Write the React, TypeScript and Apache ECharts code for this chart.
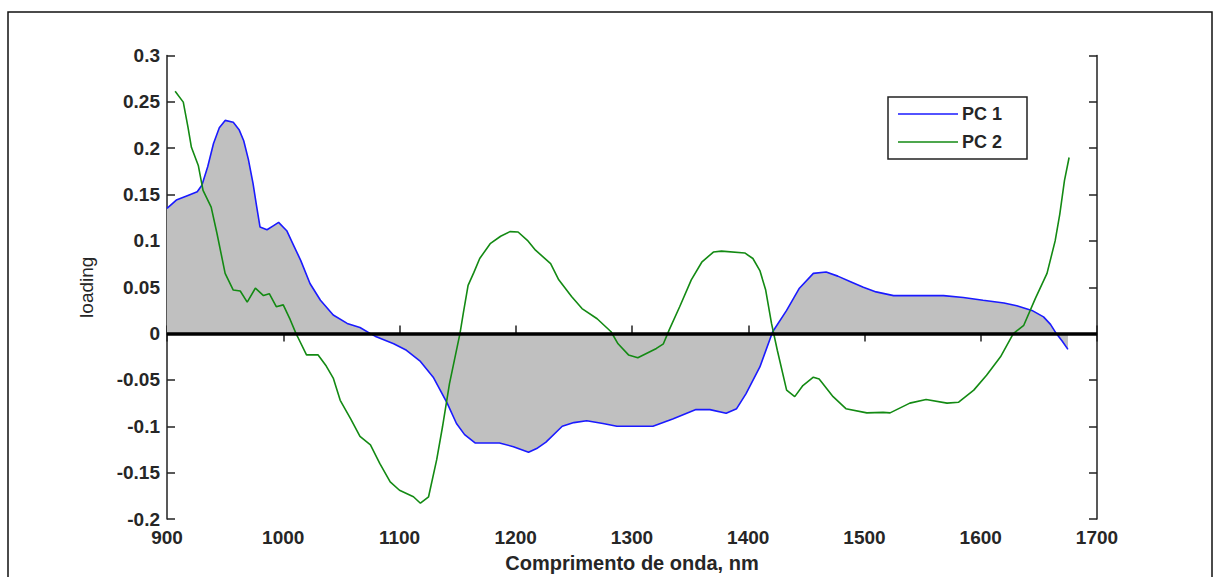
import React, { useEffect, useRef } from "react";
import * as echarts from "echarts";

const pc1Wavelength = [900, 908, 918, 926, 930, 935, 940, 945, 950, 957, 962, 966, 970, 974, 977, 980, 986, 991, 996, 1003, 1009, 1015, 1023, 1032, 1043, 1055, 1066, 1075, 1080, 1095, 1106, 1118, 1129, 1141, 1149, 1156, 1165, 1186, 1198, 1211, 1218, 1226, 1240, 1250, 1261, 1275, 1287, 1305, 1318, 1335, 1355, 1367, 1381, 1390, 1398, 1410, 1421, 1433, 1444, 1456, 1467, 1477, 1488, 1499, 1510, 1525, 1545, 1568, 1585, 1602, 1620, 1631, 1644, 1654, 1660, 1665, 1670, 1675];
const pc1Loading = [0.135, 0.144, 0.149, 0.153, 0.16, 0.18, 0.205, 0.222, 0.23, 0.228, 0.22, 0.208, 0.188, 0.162, 0.138, 0.115, 0.112, 0.116, 0.12, 0.111, 0.095, 0.079, 0.054, 0.036, 0.02, 0.011, 0.0066, 0.0, -0.0035, -0.011, -0.018, -0.03, -0.047, -0.075, -0.097, -0.109, -0.118, -0.118, -0.122, -0.128, -0.124, -0.117, -0.1, -0.096, -0.094, -0.097, -0.1, -0.1, -0.1, -0.092, -0.082, -0.082, -0.086, -0.081, -0.065, -0.036, 0.002, 0.025, 0.049, 0.065, 0.0665, 0.062, 0.056, 0.05, 0.045, 0.041, 0.041, 0.041, 0.039, 0.036, 0.033, 0.03, 0.025, 0.018, 0.01, 0.0, -0.008, -0.017];

const pc2Wavelength = [907, 914, 918, 921, 927, 931, 938, 943, 950, 957, 963, 969, 976, 983, 988, 994, 1000, 1006, 1011, 1013, 1020, 1030, 1037, 1043, 1049, 1058, 1066, 1075, 1083, 1092, 1100, 1112, 1118, 1125, 1132, 1137, 1143, 1152, 1155, 1159, 1164, 1169, 1178, 1187, 1195, 1202, 1210, 1217, 1230, 1237, 1248, 1257, 1270, 1282, 1288, 1297, 1305, 1321, 1327, 1332, 1341, 1351, 1360, 1370, 1377, 1397, 1404, 1410, 1415, 1420, 1425, 1433, 1440, 1447, 1456, 1461, 1473, 1484, 1502, 1516, 1522, 1539, 1553, 1571, 1581, 1594, 1605, 1617, 1628, 1637, 1647, 1657, 1664, 1668, 1672, 1676];
const pc2Loading = [0.2615, 0.2497, 0.223, 0.201, 0.181, 0.1545, 0.1365, 0.108, 0.065, 0.047, 0.046, 0.034, 0.049, 0.041, 0.043, 0.029, 0.031, 0.015, 0.0, -0.005, -0.023, -0.023, -0.035, -0.048, -0.072, -0.092, -0.111, -0.12, -0.14, -0.16, -0.169, -0.176, -0.183, -0.176, -0.136, -0.1005, -0.054, 0.0, 0.023, 0.052, 0.066, 0.081, 0.097, 0.105, 0.11, 0.1096, 0.1006, 0.09, 0.0755, 0.058, 0.04, 0.027, 0.016, 0.002, -0.011, -0.023, -0.026, -0.016, -0.011, 0.004, 0.029, 0.058, 0.077, 0.088, 0.089, 0.087, 0.081, 0.068, 0.047, 0.011, -0.018, -0.061, -0.068, -0.056, -0.047, -0.049, -0.068, -0.081, -0.0855, -0.085, -0.0855, -0.075, -0.071, -0.075, -0.074, -0.061, -0.045, -0.025, 0.0, 0.009, 0.038, 0.065, 0.1, 0.129, 0.165, 0.19];

const seriesNames = ["PC 1", "PC 2"];
const seriesColors = ["#1a1aff", "#138a13"];
const xTitle = "Comprimento de onda, nm";
const yTitle = "loading";

const FONT = "'Liberation Sans', Arial, sans-serif";
const TXT = "#262626";

export default function App() {
  const ref = useRef<HTMLDivElement>(null);
  useEffect(() => {
    if (!ref.current) return;
    const chart = echarts.init(ref.current, undefined, { renderer: "svg" });
    const pair = (xs: number[], ys: number[]) => xs.map((x, i) => [x, ys[i]]);
    const axisLine = { show: true, lineStyle: { color: "#222", width: 1.5 } };
    const tick = { show: true, inside: true, length: 8, lineStyle: { color: "#222", width: 1.5 } };
    const yFmt = (v: number) => String(parseFloat(v.toFixed(2)));
    const xFmt = (v: number) => String(Math.round(v));
    chart.setOption({
      animation: false,
      backgroundColor: "#fff",
      grid: { left: 167, right: 117, top: 55.5, bottom: 58, containLabel: false, outerBoundsMode: "none" },
      xAxis: [
        {
          type: "value", min: 900, max: 1700, interval: 100, position: "bottom",
          name: xTitle, nameLocation: "middle", nameGap: 34,
          nameTextStyle: { fontFamily: FONT, fontSize: 20, fontWeight: "bold", color: TXT },
          axisLine, axisTick: tick, splitLine: { show: false },
          axisLabel: { margin: 9, fontFamily: FONT, fontSize: 19, fontWeight: "bold", color: TXT, formatter: xFmt },
        },
        {
          type: "value", min: 900, max: 1700, interval: 100, position: "top",
          axisLine, axisTick: tick, splitLine: { show: false }, axisLabel: { show: false },
        },
      ],
      yAxis: [
        {
          type: "value", min: -0.2, max: 0.3, interval: 0.05, position: "left",
          name: yTitle, nameLocation: "middle", nameGap: 71, nameRotate: 90,
          nameTextStyle: { fontFamily: FONT, fontSize: 19, color: TXT },
          axisLine, axisTick: tick, splitLine: { show: false },
          axisLabel: { margin: 7, fontFamily: FONT, fontSize: 19, fontWeight: "bold", color: TXT, formatter: yFmt },
        },
        {
          type: "value", min: -0.2, max: 0.3, interval: 0.05, position: "right",
          axisLine, axisTick: tick, splitLine: { show: false }, axisLabel: { show: false },
        },
      ],
      series: [
        {
          name: seriesNames[0], type: "line", data: pair(pc1Wavelength, pc1Loading),
          showSymbol: false, symbol: "none",
          lineStyle: { color: seriesColors[0], width: 1.6 },
          areaStyle: { color: "#c0c0c0", opacity: 1 },
          markLine: {
            silent: true, symbol: "none", label: { show: false },
            lineStyle: { color: "#000", width: 3.5, type: "solid" },
            data: [{ yAxis: 0 }],
          },
        },
        {
          name: seriesNames[1], type: "line", data: pair(pc2Wavelength, pc2Loading),
          showSymbol: false, symbol: "none",
          lineStyle: { color: seriesColors[1], width: 1.6 },
        },
      ],
      graphic: [
        {
          type: "rect", shape: { x: 8, y: 12, width: 1204, height: 600 },
          style: { fill: "none", stroke: "#111", lineWidth: 1.5 }, silent: true,
        },
        {
          type: "group", children: [
            { type: "rect", shape: { x: 888, y: 97, width: 139, height: 62 }, style: { fill: "#fff", stroke: "#222", lineWidth: 1.5 } },
            { type: "line", shape: { x1: 898, y1: 114, x2: 958, y2: 114 }, style: { stroke: seriesColors[0], lineWidth: 1.6 } },
            { type: "line", shape: { x1: 898, y1: 142, x2: 958, y2: 142 }, style: { stroke: seriesColors[1], lineWidth: 1.6 } },
            { type: "text", x: 962, y: 114, style: { text: seriesNames[0], fontFamily: FONT, fontSize: 18, fontWeight: "bold", fill: TXT, verticalAlign: "middle", textAlign: "left" } },
            { type: "text", x: 962, y: 142, style: { text: seriesNames[1], fontFamily: FONT, fontSize: 18, fontWeight: "bold", fill: TXT, verticalAlign: "middle", textAlign: "left" } },
          ],
        },
      ],
    });
    return () => chart.dispose();
  }, []);
  return <div ref={ref} style={{ position: "fixed", left: 0, top: 0, width: 1214, height: 577 }} />;
}
